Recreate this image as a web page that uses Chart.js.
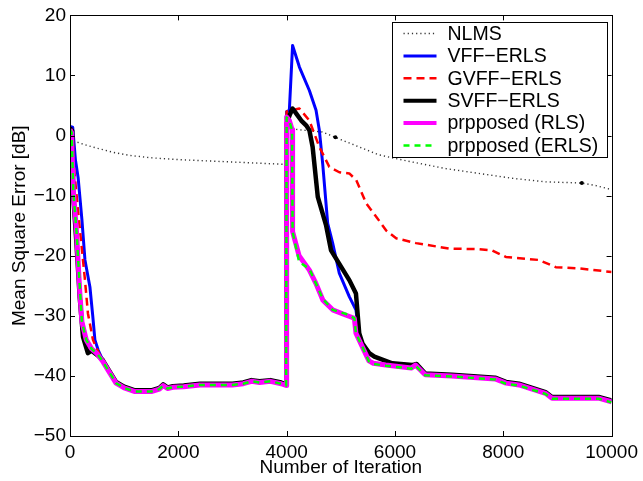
<!DOCTYPE html>
<html>
<head>
<meta charset="utf-8">
<script src="https://cdn.jsdelivr.net/npm/chart.js@4.4.1/dist/chart.umd.min.js"></script>
<style>
  html, body { margin: 0; padding: 0; background: #fff; }
</style>
</head>
<body>
<canvas id="mse" width="643" height="481"></canvas>
<script>
// values (iteration, MSE in dB)
const xTicks = [0, 2000, 4000, 6000, 8000, 10000];
const yTicks = [-50, -40, -30, -20, -10, 0, 10, 20];

const nlmsIter = [0,100,300,500,800,1100,1500,2000,2500,3000,3500,3990,4000,4300,4660,4900,5340,5700,5950,6320,6940,7550,8160,8780,9450,9700,10000];
const nlmsMse  = [-0.5,-1,-1.6,-2.1,-2.8,-3.3,-3.7,-4,-4.2,-4.4,-4.6,-4.8,1.2,0.9,0.6,-0.3,-1.9,-3.2,-3.7,-4.4,-5.5,-6.3,-7.1,-7.7,-7.9,-8.3,-9];
const nlmsDots = [4900, 9450];

const vffIter = [0,50,100,150,220,276,368,420,460,520,600,700,850,1000,1200,1500,1650,1720,1800,1900,2100,2400,3000,3200,3350,3500,3700,3900,3990,4000,4050,4110,4236,4420,4543,4604,4666,4758,4850,4972,5157,5279,5340,5400,5525,5620,5950,6320,6400,6560,7050,7850,8050,8290,8780,8900,9760,10000];
const vffMse  = [1.5,1.4,-4,-7,-14,-20.7,-25.2,-30,-34,-35.7,-37.3,-38.8,-41,-41.8,-42.4,-42.4,-42,-41.4,-41.9,-41.7,-41.6,-41.3,-41.3,-41.1,-40.7,-40.9,-40.7,-41.1,-41.4,4,4.2,15,11.4,7.5,4.2,0.9,-4.7,-14.6,-17.9,-22.9,-26.8,-29,-32.9,-34.6,-36.2,-36.8,-37.9,-38.2,-38,-39.6,-39.8,-40.3,-41,-41.3,-42.7,-43.5,-43.5,-44.1];

const gvffIter = [0,60,147,276,331,424,480,550,600,700,850,1000,1200,1500,1650,1720,1800,1900,2100,2400,3000,3200,3350,3500,3700,3900,3990,4000,4236,4420,4604,4788,4972,5157,5285,5470,5654,5838,6022,6390,6998,7550,7790,8048,8656,8969,9392,10000];
const gvffMse  = [1,-4,-12.4,-24,-29.6,-34,-35.2,-36.5,-37.3,-38.8,-41,-41.8,-42.4,-42.4,-42,-41.4,-41.9,-41.7,-41.6,-41.3,-41.3,-41.1,-40.7,-40.9,-40.7,-41.1,-41.4,4,4.5,2.5,-1.9,-5.2,-6.1,-6.3,-7.4,-11.3,-13.5,-15.8,-17.1,-17.9,-18.8,-18.9,-19.1,-20.2,-20.7,-21.9,-22.1,-22.7];

const svffIter = [0,40,60,120,180,240,330,400,500,600,700,850,1000,1200,1500,1650,1720,1800,1900,2100,2400,3000,3200,3350,3500,3700,3900,3990,4000,4060,4110,4175,4270,4360,4420,4480,4575,4730,4820,4970,5160,5280,5340,5400,5525,5620,5950,6320,6400,6560,7050,7850,8050,8290,8780,8900,9760,10000];
const svffMse  = [1.2,0.8,-10,-18,-27,-33.5,-36.2,-35.8,-36.5,-37.3,-38.8,-41,-41.8,-42.4,-42.4,-42,-41.4,-41.9,-41.7,-41.6,-41.3,-41.3,-41.1,-40.7,-40.9,-40.7,-41.1,-41.4,2,3.5,4.5,3.7,2.5,1.7,0.9,-1.9,-10.2,-15,-19.1,-21.3,-24.1,-26.3,-32.9,-34.6,-36.2,-36.8,-37.9,-38.2,-38,-39.6,-39.8,-40.3,-41,-41.3,-42.7,-43.5,-43.5,-44.1];

const rlsIter = [0,30,60,120,180,220,300,400,500,600,700,850,1000,1200,1500,1650,1720,1800,1900,2100,2400,3000,3200,3350,3500,3700,3900,3990,4000,4050,4100,4110,4230,4420,4540,4670,4850,5100,5250,5280,5400,5520,5600,5830,6300,6380,6560,7050,7850,8050,8290,8780,8900,9760,10000];
const rlsMse  = [1,0.5,-9,-16,-26,-31,-34,-35.5,-36.3,-37.5,-39,-41.2,-42,-42.6,-42.6,-42.2,-41.6,-42.1,-41.9,-41.8,-41.5,-41.5,-41.3,-40.9,-41.1,-40.9,-41.3,-41.6,3.1,2.5,1,-16,-20,-22.4,-24.6,-27.4,-29,-29.9,-30.4,-32.9,-35.2,-37.5,-37.9,-38.2,-38.7,-38.2,-39.8,-40,-40.5,-41.2,-41.5,-42.9,-43.7,-43.7,-44.3];

const erlsIter = rlsIter;
const erlsMse  = [1,0.5,-9,-16,-25,-31,-34,-35.5,-36.3,-37.5,-39,-41.2,-42,-42.6,-42.6,-42.2,-41.6,-42.1,-41.9,-41.8,-41.5,-41.5,-41.3,-40.9,-41.1,-40.9,-41.3,-41.6,3,2.4,0.9,-16,-21,-22.2,-24.6,-27.2,-29,-29.7,-30.4,-32.9,-35.2,-37.6,-38,-38.3,-38.8,-38.3,-39.9,-40.1,-40.6,-41.3,-41.6,-43,-43.8,-43.8,-44.4];

const labels = ['NLMS', 'VFF\u2212ERLS', 'GVFF\u2212ERLS', 'SVFF\u2212ERLS', 'prpposed (RLS)', 'prpposed (ERLS)'];

const FONT = "'Liberation Sans', Arial, Helvetica, sans-serif";

function pts(xs, ys) {
  return xs.map((v, i) => ({ x: v, y: ys[i] }));
}

function line(label, data, color, width, dash, order) {
  return {
    label: label,
    data: data,
    borderColor: color,
    backgroundColor: color,
    borderWidth: width,
    borderDash: dash,
    borderJoinStyle: 'round',
    pointRadius: 0,
    tension: 0,
    fill: false,
    order: order
  };
}

const nlms = line(labels[0], pts(nlmsIter, nlmsMse), '#333', 1.4, [1.2, 3], 5);
nlms.pointRadius = ctx => (nlmsDots.includes(nlmsIter[ctx.index]) ? 2 : 0);
nlms.pointBackgroundColor = '#000';
nlms.pointBorderWidth = 0;

const datasets = [
  nlms,
  line(labels[1], pts(vffIter, vffMse), '#0000ff', 3, [], 4),
  line(labels[2], pts(gvffIter, gvffMse), '#ff0000', 2.5, [8, 5], 3),
  line(labels[3], pts(svffIter, svffMse), '#000000', 4.5, [], 2),
  line(labels[4], pts(rlsIter, rlsMse), '#ff00ff', 5, [], 1),
  line(labels[5], pts(erlsIter, erlsMse), '#00ff00', 2.5, [6, 5], 0)
];

// MATLAB style box, inward ticks and boxed legend
const matlabFrame = {
  id: 'matlabFrame',
  afterDraw(chart) {
    const { ctx, chartArea: a, scales } = chart;
    const x = scales.x, y = scales.y;
    ctx.save();
    ctx.strokeStyle = '#000';
    ctx.lineWidth = 1;
    ctx.setLineDash([]);
    ctx.strokeRect(Math.round(a.left) + 0.5, Math.round(a.top) + 0.5,
      Math.round(a.right - a.left), Math.round(a.bottom - a.top));
    ctx.beginPath();
    xTicks.forEach(v => {
      const px = Math.round(x.getPixelForValue(v)) + 0.5;
      ctx.moveTo(px, a.bottom); ctx.lineTo(px, a.bottom - 5);
      ctx.moveTo(px, a.top); ctx.lineTo(px, a.top + 5);
    });
    yTicks.forEach(v => {
      const py = Math.round(y.getPixelForValue(v)) + 0.5;
      ctx.moveTo(a.left, py); ctx.lineTo(a.left + 5, py);
      ctx.moveTo(a.right, py); ctx.lineTo(a.right - 5, py);
    });
    ctx.stroke();

    // legend
    const bx = Math.round(a.right) - 220 + 0.5, by = Math.round(a.top) + 7 + 0.5;
    const bw = 215, bh = 135;
    ctx.fillStyle = '#fff';
    ctx.fillRect(bx, by, bw, bh);
    ctx.strokeRect(bx, by, bw, bh);
    ctx.font = '19.5px ' + FONT;
    ctx.textBaseline = 'middle';
    ctx.textAlign = 'left';
    chart.data.datasets.forEach((ds, i) => {
      const ry = by + 11 + i * 22.4;
      ctx.strokeStyle = ds.borderColor;
      ctx.lineWidth = Math.min(ds.borderWidth, 4);
      ctx.setLineDash(ds.borderDash || []);
      ctx.beginPath();
      ctx.moveTo(bx + 11, ry);
      ctx.lineTo(bx + 44, ry);
      ctx.stroke();
      ctx.fillStyle = '#000';
      ctx.fillText(ds.label, bx + 55, ry + 1);
    });
    ctx.restore();
  }
};

const tickFont = { family: FONT, size: 19 };

new Chart(document.getElementById('mse'), {
  type: 'line',
  data: { datasets: datasets },
  options: {
    responsive: false,
    animation: false,
    layout: { padding: { top: 15, right: 30, left: 0, bottom: 0 } },
    plugins: {
      legend: { display: false },
      tooltip: { enabled: false }
    },
    scales: {
      x: {
        type: 'linear',
        min: 0,
        max: 10000,
        grid: { display: false, drawTicks: false },
        border: { display: false },
        ticks: { stepSize: 2000, color: '#000', font: tickFont, padding: 5, maxRotation: 0, callback: v => String(v) },
        title: { display: true, text: 'Number of Iteration', color: '#000', font: tickFont, padding: { top: 0, bottom: 2 } },
        afterFit: s => { s.height = 45; }
      },
      y: {
        min: -50,
        max: 20,
        grid: { display: false, drawTicks: false },
        border: { display: false },
        ticks: {
          stepSize: 10, color: '#000', font: tickFont, padding: 4,
          callback: v => (v < 0 ? '\u2212' + Math.abs(v) : String(v))
        },
        title: { display: true, text: 'Mean Square Error [dB]', color: '#000', font: tickFont, padding: { top: 8, bottom: 0 } },
        afterFit: s => { s.width = 70; }
      }
    }
  },
  plugins: [matlabFrame]
});
</script>
</body>
</html>
